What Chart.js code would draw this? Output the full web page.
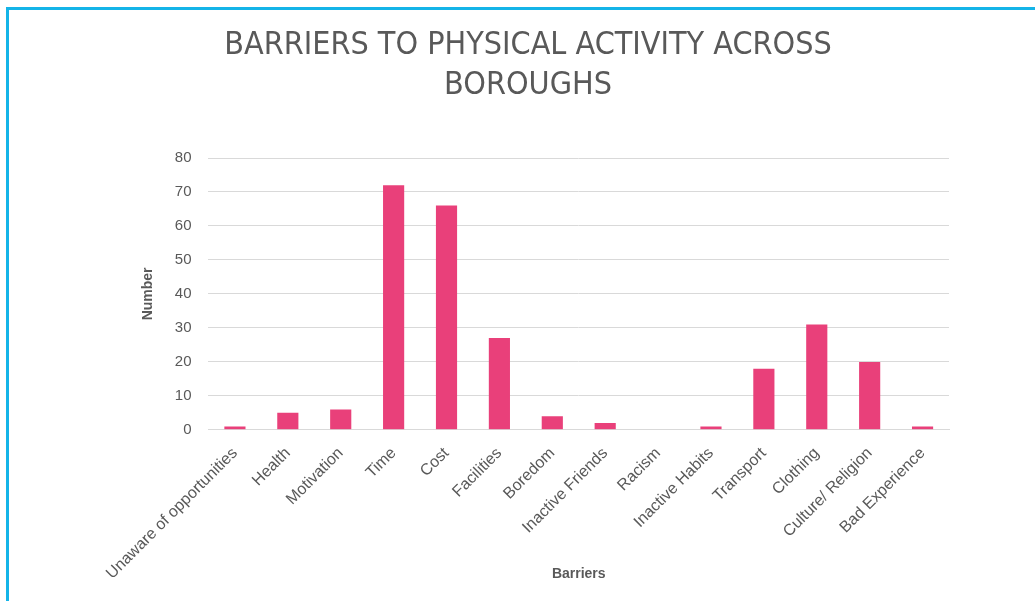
<!DOCTYPE html>
<html>
<head>
<meta charset="utf-8">
<script src="https://cdn.jsdelivr.net/npm/chart.js@4/dist/chart.umd.min.js"></script>
<style>
  html, body { margin: 0; padding: 0; background: #fff; }
  #wrap { position: absolute; left: 0; top: 0; width: 1035px; height: 601px; }
  #frame {
    position: absolute; left: 6px; top: 7px; width: 1100px; height: 700px;
    border: 3px solid #14b4e8; box-sizing: border-box; pointer-events: none;
  }
</style>
</head>
<body>
<div id="wrap"><canvas id="barChart"></canvas></div>
<div id="frame"></div>
<script>
  // barriers and how many people named each one
  var barriers = ['Unaware of opportunities', 'Health', 'Motivation', 'Time', 'Cost',
    'Facilities', 'Boredom', 'Inactive Friends', 'Racism', 'Inactive Habits',
    'Transport', 'Clothing', 'Culture/ Religion', 'Bad Experience'];
  var counts = [1, 5, 6, 72, 66, 27, 4, 2, 0, 1, 18, 31, 20, 1];
  var titleLines = ['BARRIERS TO PHYSICAL ACTIVITY ACROSS', 'BOROUGHS'];

  var grey = '#595959';
  var labelFont = "'Liberation Sans', Arial, sans-serif";

  var ctx = document.getElementById('barChart').getContext('2d');
  var chart = new Chart(ctx, {
    type: 'bar',
    data: {
      labels: barriers,
      datasets: [{
        label: 'Number',
        data: counts,
        backgroundColor: '#e9407a',
        borderWidth: 0,
        barPercentage: 0.8,
        categoryPercentage: 0.5
      }]
    },
    options: {
      responsive: true,
      maintainAspectRatio: false,
      animation: false,
      layout: { padding: { top: 0, left: 107, right: 86, bottom: 0 } },
      plugins: {
        legend: { display: false },
        tooltip: { enabled: false },
        title: {
          display: true,
          text: titleLines,
          color: grey,
          font: { family: "'Liberation Sans Narrow', 'DejaVu Sans Condensed', sans-serif", size: 32, weight: 'normal', lineHeight: 1.25 },
          padding: { top: 26, bottom: 52 }
        }
      },
      scales: {
        x: {
          grid: { display: false, drawTicks: false },
          border: { color: '#d9d9d9', width: 1 },
          ticks: {
            color: grey,
            font: { family: labelFont, size: 16 },
            maxRotation: 45,
            minRotation: 45,
            padding: 14,
            autoSkip: false
          },
          title: {
            display: true,
            text: 'Barriers',
            color: grey,
            font: { family: labelFont, size: 14, weight: 'bold' },
            padding: { top: -31, bottom: 18 }
          }
        },
        y: {
          min: 0,
          max: 80,
          grid: { color: '#d9d9d9', drawTicks: false },
          border: { display: false },
          ticks: {
            stepSize: 10,
            color: grey,
            font: { family: labelFont, size: 15 },
            padding: 17
          },
          title: {
            display: true,
            text: 'Number',
            color: grey,
            font: { family: labelFont, size: 14, weight: 'bold' },
            padding: { top: 33, bottom: 1 }
          }
        }
      }
    }
  });
</script>
</body>
</html>
